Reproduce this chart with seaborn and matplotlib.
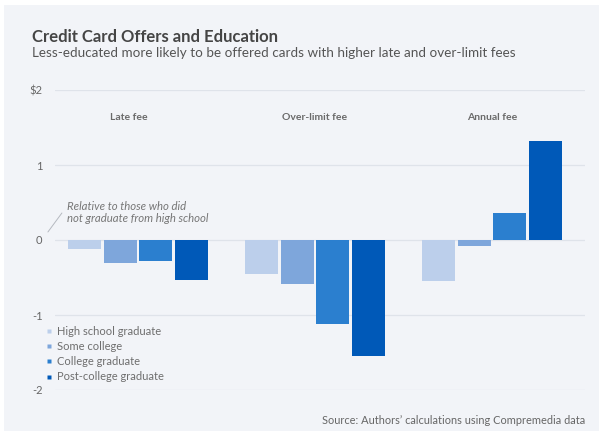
import matplotlib
matplotlib.use("Agg")
import matplotlib.pyplot as plt
from matplotlib.lines import Line2D
from matplotlib.patches import Rectangle
import seaborn as sns
import pandas as pd

# Fee differences (dollars) relative to those who did not graduate from high school
fee_types = ["Late fee", "Over-limit fee", "Annual fee"]
education = ["High school graduate", "Some college", "College graduate", "Post-college graduate"]
late_fee = [-0.12, -0.31, -0.28, -0.53]
over_limit_fee = [-0.46, -0.59, -1.12, -1.55]
annual_fee = [-0.55, -0.08, 0.36, 1.32]
palette = ["#bccfeb", "#7ea6db", "#2b7fcf", "#0059b8"]
yticks = [2, 1, 0, -1, -2]
ytick_labels = ["$2", "1", "0", "-1", "-2"]

rows = []
for fee, vals in zip(fee_types, [late_fee, over_limit_fee, annual_fee]):
    for edu, v in zip(education, vals):
        rows.append({"fee": fee, "education": edu, "value": v})
df = pd.DataFrame(rows)

sns.set_theme(style="white")
plt.rcParams["font.family"] = ["Lato", "DejaVu Sans"]

BG = "#f2f4f8"
W, H = 606, 436
fig = plt.figure(figsize=(W / 100, H / 100), dpi=100)
fig.patch.set_facecolor("white")
fig.patches.append(Rectangle((4 / W, 1 - 431 / H), 595 / W, 426 / H,
                             transform=fig.transFigure, facecolor=BG,
                             edgecolor="none", zorder=-10))

ax = fig.add_axes([55 / W, 1 - 390 / H, 530 / W, 300 / H])
ax.set_facecolor(BG)
ax.patch.set_alpha(0)

sns.barplot(data=df, x="fee", y="value", hue="education", order=fee_types,
            hue_order=education, palette=palette, width=0.8, gap=0.07,
            saturation=1, linewidth=0, legend=False, ax=ax, zorder=3)

ax.set_ylim(-2, 2)
ax.set_xlim(-0.469, 2.525)
ax.set_yticks(yticks)
ax.set_yticklabels(ytick_labels)
ax.set_xticks([])
ax.set_xlabel("")
ax.set_ylabel("")
for s in ax.spines.values():
    s.set_visible(False)
ax.tick_params(axis="y", length=0, pad=9, labelsize=8, labelcolor="#666666")
for y in yticks:
    ax.axhline(y, color="#dfe3ea", lw=0.9, zorder=1)

# Group titles above each cluster of bars
for i, name in enumerate(fee_types):
    ax.text(i - (0.05 if i == 0 else 0), 1.64, name, ha="center", va="center",
            fontsize=7.5, fontweight="bold", color="#6a6a6a")

# Reference-group note with a leader line
ax.plot([-0.509, -0.43], [0.107, 0.36], color="#b5b9c0", lw=0.7,
        clip_on=False, zorder=2)
ax.text(-0.401, 0.37, "Relative to those who did\nnot graduate from high school",
        ha="left", va="center", fontsize=8.2, style="italic", color="#777777",
        linespacing=1.15)

# Legend with small square markers
handles = [Line2D([], [], marker="s", linestyle="none", markersize=3.5,
                  markerfacecolor=c, markeredgecolor="none") for c in palette]
leg = ax.legend(handles, education, loc="upper left",
                bbox_to_anchor=(38 / W, 1 - 318 / H), bbox_transform=fig.transFigure,
                frameon=False, fontsize=8, handlelength=0.6, handletextpad=0.45,
                labelspacing=0.38, borderpad=0.2)
for t in leg.get_texts():
    t.set_color("#6e6e6e")

fig.text(32 / W, 1 - 37 / H, "Credit Card Offers and Education", ha="left",
         va="center", fontsize=12, fontweight="bold", color="#454545")
fig.text(32 / W, 1 - 53 / H,
         "Less-educated more likely to be offered cards with higher late and over-limit fees",
         ha="left", va="center", fontsize=9.75, color="#555555")
fig.text(585 / W, 1 - 420 / H, "Source: Authors\u2019 calculations using Compremedia data",
         ha="right", va="center", fontsize=7.9, color="#666666")

fig.savefig("out.png", dpi=100, facecolor=fig.get_facecolor())
